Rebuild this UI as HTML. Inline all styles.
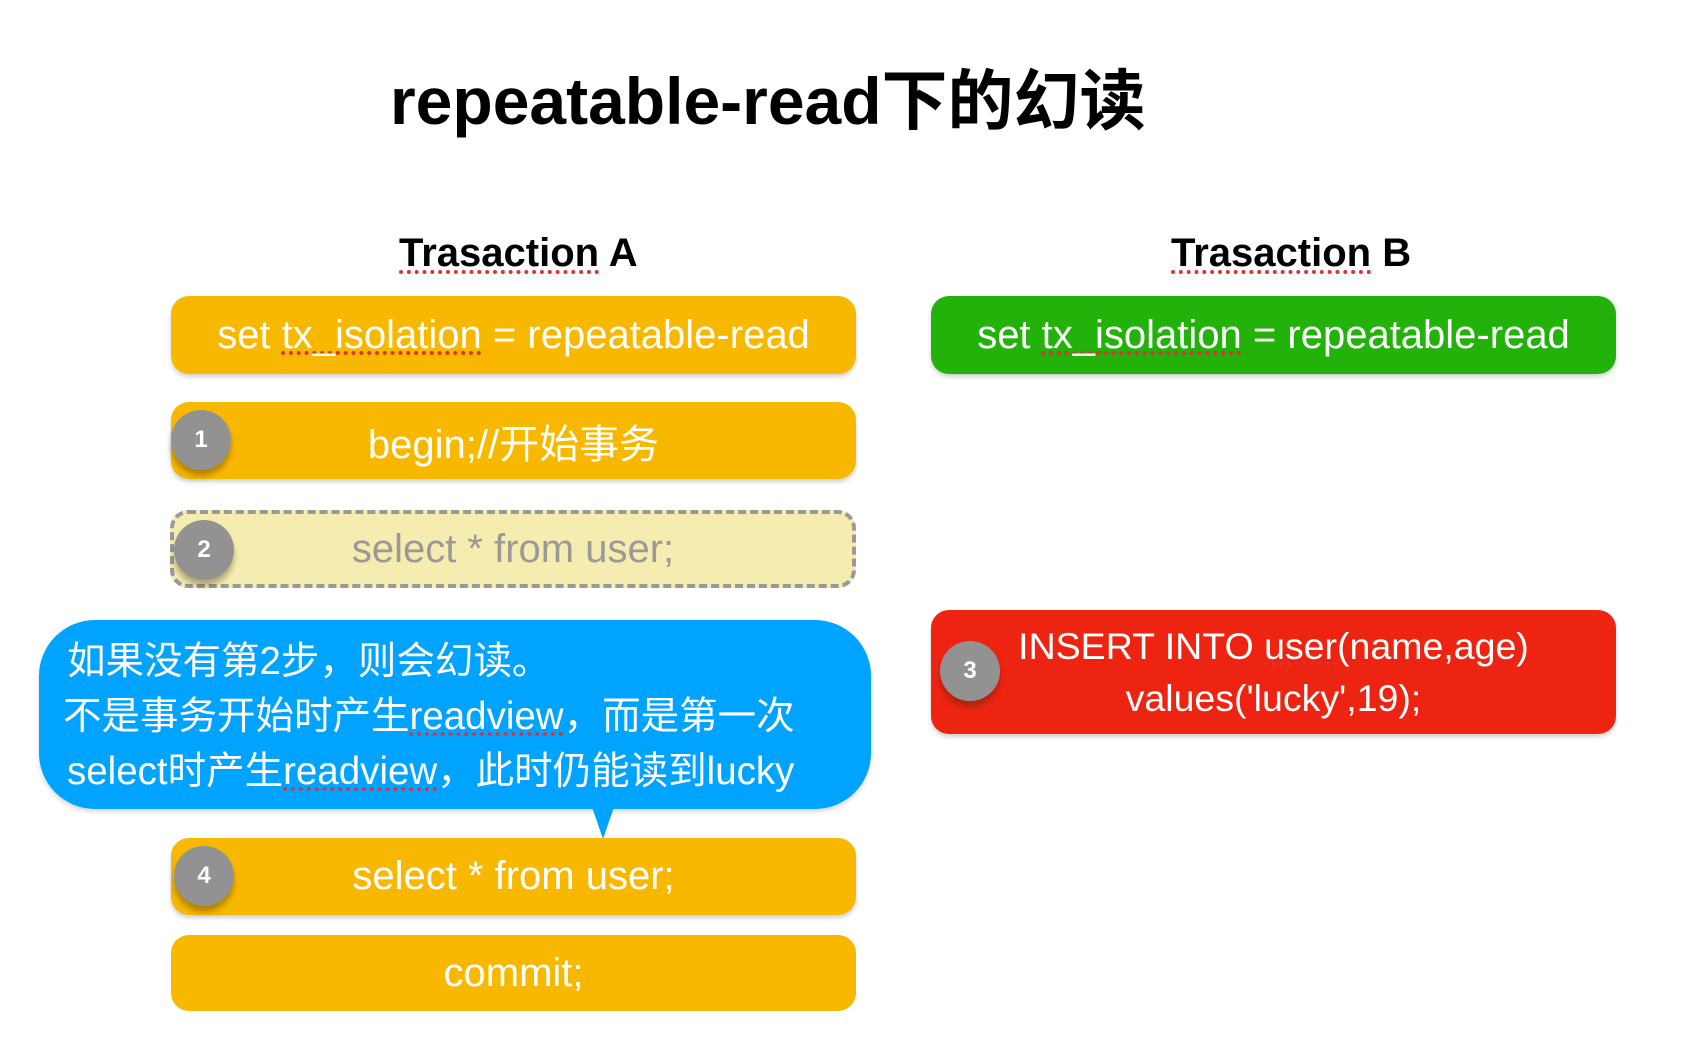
<!DOCTYPE html>
<html><head><meta charset="utf-8"><style>
body{margin:0;width:1694px;height:1062px;background:#fff;position:relative;overflow:hidden;font-family:"Liberation Sans","Noto Sans CJK SC",sans-serif}
.t{position:absolute;white-space:nowrap}
.box{position:absolute;border-radius:18px;color:#fff;font-size:40px;display:flex;align-items:center;justify-content:center;box-shadow:0 3px 4px rgba(0,0,0,0.18);white-space:nowrap}
.o{background:#F8B800}
.c{position:absolute;width:60px;height:60px;border-radius:50%;background:#929292;color:#fff;font-size:24px;font-weight:bold;display:flex;align-items:center;justify-content:center;box-shadow:0 6px 6px rgba(60,40,0,0.35)}
.u{text-decoration:underline dotted #d33;text-underline-offset:4px}
</style></head><body>
<div class="t" style="left:390px;top:48px;font-size:66px;font-weight:bold;color:#000">repeatable-read下的幻读</div>
<div class="t" style="left:399px;top:231px;font-size:40px;font-weight:bold"><span class="u">Trasaction</span> A</div>
<div class="t" style="left:1171px;top:231px;font-size:40px;font-weight:bold"><span class="u">Trasaction</span> B</div>

<div class="box o" style="left:171px;top:296px;width:685px;height:78px"><span>set <span class="u">tx_isolation</span> = repeatable-read</span></div>
<div class="box" style="left:931px;top:296px;width:685px;height:78px;background:#22B20A"><span>set <span class="u">tx_isolation</span> = repeatable-read</span></div>

<div class="box o" style="left:171px;top:402px;width:685px;height:77px">begin;//开始事务</div>
<div class="c" style="left:171px;top:410px">1</div>

<div class="box" style="left:170px;top:510px;width:686px;height:78px;background:#F5EDB0;border:4px dashed #999;box-sizing:border-box;color:#999;box-shadow:none">select * from user;</div>
<div class="c" style="left:174px;top:520px">2</div>

<div style="position:absolute;left:39px;top:620px;width:832px;height:189px;border-radius:56px;background:#00A3FF;box-shadow:0 3px 4px rgba(0,0,0,0.15)"></div>
<div style="position:absolute;left:592px;top:807px;width:0;height:0;border-left:11px solid transparent;border-right:11px solid transparent;border-top:32px solid #00A3FF"></div>
<div class="t" style="left:67px;top:634px;font-size:38.5px;color:#fff;line-height:55px">如果没有第2步，则会幻读。<br><span style="margin-left:-4px">不是事务开始时产生<span class="u">readview</span>，而是第一次</span><br>select时产生<span class="u">readview</span>，此时仍能读到lucky</div>

<div class="box o" style="left:171px;top:838px;width:685px;height:77px">select * from user;</div>
<div class="c" style="left:174px;top:846px">4</div>

<div class="box o" style="left:171px;top:935px;width:685px;height:76px;box-shadow:none">commit;</div>

<div class="box" style="left:931px;top:610px;width:685px;height:124px;background:#EE2412;line-height:52px;text-align:center;font-size:37.5px"><div>INSERT INTO <span class="u">user</span>(name,age)<br>values('lucky',19);</div></div>
<div class="c" style="left:940px;top:641px">3</div>
</body></html>
